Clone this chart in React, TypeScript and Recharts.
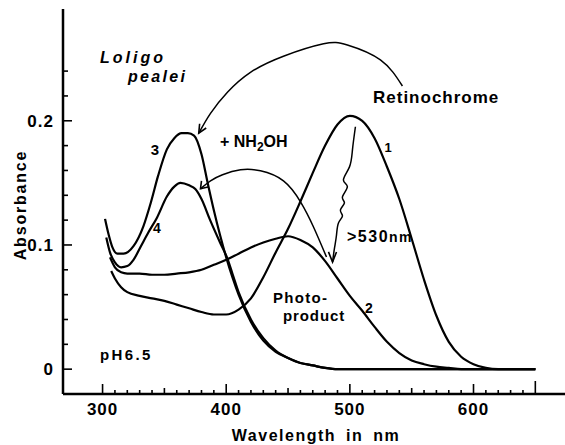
import { Customized, Line, LineChart, XAxis, YAxis } from "recharts";

// curve 1: retinochrome
const retinochromeNm = [307, 310, 315, 320, 330, 340, 350, 360, 370, 380, 390, 400, 410, 420, 430, 440, 450, 460, 470, 480, 490, 500, 510, 520, 530, 540, 550, 560, 570, 580, 590, 600, 610, 620, 650];
const retinochromeAbs = [0.079, 0.073, 0.066, 0.062, 0.059, 0.057, 0.055, 0.052, 0.049, 0.046, 0.044, 0.044, 0.048, 0.057, 0.074, 0.094, 0.113, 0.135, 0.158, 0.18, 0.197, 0.204, 0.2, 0.186, 0.163, 0.137, 0.105, 0.072, 0.043, 0.022, 0.01, 0.004, 0.001, 0, 0];

// curve 2: photoproduct
const photoNm = [306, 310, 315, 320, 330, 340, 350, 360, 370, 380, 390, 400, 410, 420, 430, 440, 450, 460, 470, 480, 490, 500, 510, 520, 530, 540, 550, 560, 570, 580, 590, 650];
const photoAbs = [0.09, 0.082, 0.078, 0.077, 0.077, 0.076, 0.076, 0.077, 0.078, 0.08, 0.084, 0.088, 0.093, 0.098, 0.102, 0.105, 0.107, 0.104, 0.098, 0.087, 0.073, 0.059, 0.047, 0.034, 0.022, 0.013, 0.007, 0.004, 0.002, 0.001, 0, 0];

// curve 3: + NH2OH
const curve3Nm = [302, 305, 308, 312, 317, 325, 333, 339, 345, 352, 358, 364, 369, 374, 380, 385, 390, 395, 400, 405, 410, 420, 430, 440, 450, 460, 470, 480, 490, 650];
const curve3Abs = [0.121, 0.108, 0.098, 0.093, 0.093, 0.099, 0.115, 0.134, 0.156, 0.177, 0.186, 0.19, 0.19, 0.188, 0.173, 0.15, 0.128, 0.108, 0.09, 0.074, 0.06, 0.038, 0.023, 0.014, 0.009, 0.005, 0.003, 0.001, 0, 0];

// curve 4
const curve4Nm = [303, 306, 310, 315, 320, 325, 331, 337, 344, 352, 358, 363, 370, 375, 380, 387, 395, 401, 405, 410, 420, 430, 440, 450, 460, 470, 480, 490, 650];
const curve4Abs = [0.106, 0.094, 0.086, 0.082, 0.083, 0.088, 0.099, 0.11, 0.122, 0.139, 0.147, 0.15, 0.148, 0.145, 0.137, 0.12, 0.102, 0.089, 0.077, 0.062, 0.04, 0.025, 0.015, 0.009, 0.005, 0.003, 0.001, 0, 0];

// annotation arrows, in data units
const arrowANm = [542.5, 524.7, 498, 478.7, 446.3, 419.6, 401, 387.3, 377.8];
const arrowAAbs = [0.228, 0.249, 0.261, 0.262, 0.252, 0.239, 0.223, 0.206, 0.19];
const arrowAHeadNm = [378.5, 377.8, 383.8];
const arrowAHeadAbs = [0.1976, 0.19, 0.1942];

const arrowBNm = [481.1, 470.6, 460.1, 446.3, 427.7, 411.6, 397, 387.3, 379.2];
const arrowBAbs = [0.0903, 0.1145, 0.1347, 0.1516, 0.1597, 0.1605, 0.1565, 0.1516, 0.1452];
const arrowBHeadNm = [380, 379.2, 386.1];
const arrowBHeadAbs = [0.1516, 0.1452, 0.1468];

const wavyNm = [504.5, 502.1, 499.7, 494.8, 498, 494, 495.6, 492.4, 494, 490.8, 489.2, 487.6, 486];
const wavyAbs = [0.1952, 0.1766, 0.1629, 0.1524, 0.1468, 0.1387, 0.1339, 0.1282, 0.1234, 0.1177, 0.108, 0.0976, 0.0863];
const wavyHeadNm = [482.7, 486, 489.2];
const wavyHeadAbs = [0.0944, 0.0863, 0.0944];

const xTicks = [300, 310, 320, 330, 340, 350, 360, 370, 380, 390, 400, 410, 420, 430, 440, 450, 460, 470, 480, 490, 500, 510, 520, 530, 540, 550, 560, 570, 580, 590, 600, 610, 620, 630, 640, 650];
const xTickLabels = [300, 400, 500, 600];
const yTicks = [0, 0.02, 0.04, 0.06, 0.08, 0.1, 0.12, 0.14, 0.16, 0.18, 0.2, 0.22, 0.24];
const yTickLabels = ["0", "", "", "", "", "0.1", "", "", "", "", "0.2", "", ""];

const toPoints = (nm: number[], abs: number[]) =>
  nm.map((x, i) => ({ x, y: abs[i] }));

const FONT = "'Liberation Sans', Arial, sans-serif";

const XTick = (props: any) => {
  const { x, y, payload } = props;
  const v = payload.value;
  const len = v === 650 ? 13 : v % 100 === 0 ? 10 : v % 50 === 0 ? 6 : 4;
  return (
    <g>
      <line x1={x} y1={y} x2={x} y2={y - len} stroke="#000" strokeWidth={1.6} />
      {xTickLabels.includes(v) && (
        <text x={x} y={y + 21} textAnchor="middle" fill="#000" fontFamily={FONT} fontWeight="bold" fontSize={17} letterSpacing={1}>
          {v}
        </text>
      )}
    </g>
  );
};

const YTick = (props: any) => {
  const { x, y, payload } = props;
  const label = yTickLabels[yTicks.indexOf(payload.value)] || "";
  return (
    <g>
      <line x1={x} y1={y} x2={x + (label ? 9 : 5)} y2={y} stroke="#000" strokeWidth={1.6} />
      {label && (
        <text x={x - 9} y={y} dy="0.36em" textAnchor="end" fill="#000" fontFamily={FONT} fontWeight="bold" fontSize={17} letterSpacing={1}>
          {label}
        </text>
      )}
    </g>
  );
};

const Annotations = () => (
  <g fontFamily={FONT} fontWeight="bold" fill="#000">
    <text x={100} y={63} fontSize={16} fontStyle="italic" letterSpacing={3}>Loligo</text>
    <text x={128} y={82} fontSize={16} fontStyle="italic" letterSpacing={2.3}>pealei</text>
    <text x={220} y={147} fontSize={16}>
      + NH<tspan fontSize={12} dy={4}>2</tspan><tspan dy={-4}>OH</tspan>
    </text>
    <text x={373} y={103} fontSize={17} letterSpacing={1}>Retinochrome</text>
    <text x={388} y={152} fontSize={13} textAnchor="middle" fill="#000">1</text>
    <text x={155} y={155} fontSize={15} textAnchor="middle">3</text>
    <text x={157} y={233} fontSize={14} textAnchor="middle">4</text>
    <text x={369} y={313} fontSize={14} textAnchor="middle">2</text>
    <text x={347} y={242} fontSize={16} letterSpacing={1.5}>
      &gt;530<tspan fontSize={14}>nm</tspan>
    </text>
    <text x={273} y={303} fontSize={15} letterSpacing={1.3}>Photo-</text>
    <text x={283} y={321} fontSize={15} letterSpacing={0.9}>product</text>
    <text x={100} y={360} fontSize={15} letterSpacing={2.4}>pH6.5</text>
    <text x={316} y={441} fontSize={16} textAnchor="middle" letterSpacing={1.5} wordSpacing={4}>
      Wavelength in nm
    </text>
    <text x={20} y={205} fontSize={16} textAnchor="middle" letterSpacing={1.8} dy="0.36em" transform="rotate(-90 20 205)">
      Absorbance
    </text>
  </g>
);

const curves = [
  toPoints(retinochromeNm, retinochromeAbs),
  toPoints(photoNm, photoAbs),
  toPoints(curve3Nm, curve3Abs),
  toPoints(curve4Nm, curve4Abs),
];

const arrowPaths = [
  toPoints(arrowANm, arrowAAbs),
  toPoints(arrowBNm, arrowBAbs),
  toPoints(wavyNm, wavyAbs),
];

const arrowHeads = [
  toPoints(arrowAHeadNm, arrowAHeadAbs),
  toPoints(arrowBHeadNm, arrowBHeadAbs),
  toPoints(wavyHeadNm, wavyHeadAbs),
];

export default function App() {
  return (
    <div style={{ position: "absolute", left: 0, top: 0, background: "#fff" }}>
      <LineChart width={565} height={445} margin={{ top: 9, right: 0, bottom: 0, left: 0 }}>
        <XAxis
          type="number"
          dataKey="x"
          domain={[268, 674]}
          allowDataOverflow
          ticks={xTicks}
          interval={0}
          tick={XTick}
          tickLine={false}
          tickSize={0}
          tickMargin={0}
          height={51}
          axisLine={{ stroke: "#000", strokeWidth: 2.5 }}
        />
        <YAxis
          type="number"
          domain={[-0.02, 0.29]}
          allowDataOverflow
          ticks={yTicks}
          interval={0}
          tick={YTick}
          tickLine={false}
          tickSize={0}
          tickMargin={0}
          width={63}
          axisLine={{ stroke: "#000", strokeWidth: 2.5 }}
        />
        {curves.map((d, i) => (
          <Line
            key={`curve-${i}`}
            data={d}
            dataKey="y"
            type="monotone"
            stroke="#000"
            strokeWidth={2.2}
            dot={false}
            activeDot={false}
            isAnimationActive={false}
          />
        ))}
        {arrowPaths.map((d, i) => (
          <Line
            key={`arrow-${i}`}
            data={d}
            dataKey="y"
            type="natural"
            stroke="#000"
            strokeWidth={1.5}
            dot={false}
            activeDot={false}
            isAnimationActive={false}
          />
        ))}
        {arrowHeads.map((d, i) => (
          <Line
            key={`head-${i}`}
            data={d}
            dataKey="y"
            type="linear"
            stroke="#000"
            strokeWidth={1.6}
            dot={false}
            activeDot={false}
            isAnimationActive={false}
          />
        ))}
        <Customized component={Annotations} />
      </LineChart>
    </div>
  );
}
